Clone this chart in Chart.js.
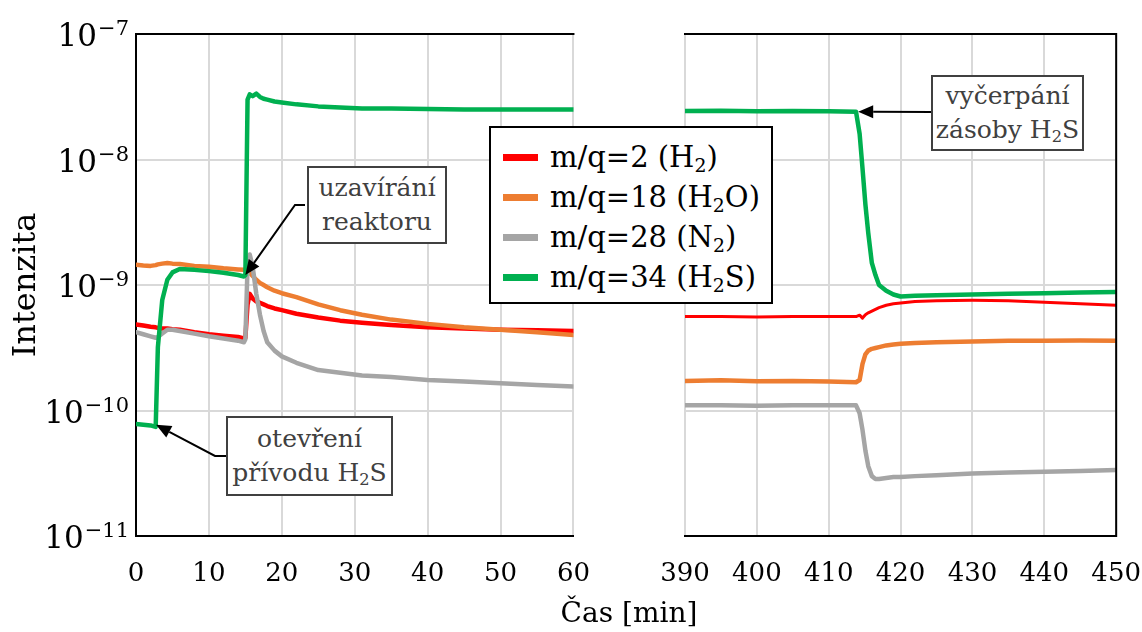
<!DOCTYPE html>
<html>
<head>
<meta charset="utf-8">
<script src="https://cdn.jsdelivr.net/npm/chart.js@4"></script>
<style>
  html, body { margin: 0; padding: 0; background: #fff; overflow: hidden; }
  #wrap { position: relative; width: 1142px; height: 632px; overflow: hidden; font-family: "DejaVu Serif", serif; }
  .pane { position: absolute; top: 0; height: 632px; }
  .box { position: absolute; box-sizing: border-box; background: #fff; border: 2px solid #404040;
         color: #404040; font-size: 25px; line-height: 34px; text-align: center;
         display: flex; flex-direction: column; justify-content: center; }
  sub { font-size: 0.65em; vertical-align: -0.25em; line-height: 0; }
  #legend { position: absolute; left: 489px; top: 126px; width: 284px; height: 178px; box-sizing: border-box;
            border: 2px solid #000; background: #fff; padding-top: 9px; }
  .row { position: relative; height: 40px; font-size: 29px; line-height: 40px; color: #000; }
  .sw { position: absolute; left: 12px; top: 17px; width: 35px; height: 7px; }
  .lt { position: absolute; left: 59px; top: 0; white-space: nowrap; }
  #xtitle { position: absolute; left: 529px; width: 200px; top: 596px; text-align: center; font-size: 28px; line-height: 34px; color: #000; }
</style>
</head>
<body>
<div id="wrap">
  <div class="pane" style="left:0;width:613px"><canvas id="cL"></canvas></div>
  <div class="pane" style="left:600px;width:564px"><canvas id="cR"></canvas></div>
  <div id="legend"></div>
  <div class="box" style="left:307px;top:166px;width:140px;height:78px"><div>uzavírání</div><div>reaktoru</div></div>
  <div class="box" style="left:226px;top:416px;width:167px;height:80px"><div>otevření</div><div>přívodu H<sub>2</sub>S</div></div>
  <div class="box" style="left:931px;top:75px;width:153px;height:76px"><div>vyčerpání</div><div>zásoby H<sub>2</sub>S</div></div>
  <div id="xtitle">Čas [min]</div>
</div>
<script>
// ---------- data ----------
const seriesNames = ['m/q=2 (H<sub>2</sub>)', 'm/q=18 (H<sub>2</sub>O)', 'm/q=28 (N<sub>2</sub>)', 'm/q=34 (H<sub>2</sub>S)'];
const seriesColors = ['#ff0000', '#ed7d31', '#a5a5a5', '#00b050'];

const xTicksL = [0, 10, 20, 30, 40, 50, 60];
const xTicksR = [390, 400, 410, 420, 430, 440, 450];
const yTickValues = [1e-11, 1e-10, 1e-9, 1e-8, 1e-7];
const yTickBase = ['10', '10', '10', '10', '10'];
const yTickExp = ['−11', '−10', '−9', '−8', '−7'];

// left part, time [min]
const tL = [0, 1, 2, 2.7, 3, 3.6, 4.3, 5, 6, 8, 10, 12, 14, 14.8, 15, 15.3, 15.6, 16, 16.5, 17, 17.5, 18, 19, 20, 22, 25, 28, 31, 35, 40, 45, 50, 55, 60];
const h2L  = [4.85e-10, 4.75e-10, 4.65e-10, 4.6e-10, 4.55e-10, 4.5e-10, 4.5e-10, 4.45e-10, 4.4e-10, 4.2e-10, 4.05e-10, 3.95e-10, 3.85e-10, 3.75e-10, 3.8e-10, 7.0e-10, 8.5e-10, 7.8e-10, 7.4e-10, 7.2e-10, 7.0e-10, 6.8e-10, 6.5e-10, 6.3e-10, 5.9e-10, 5.5e-10, 5.2e-10, 5.0e-10, 4.8e-10, 4.6e-10, 4.5e-10, 4.4e-10, 4.35e-10, 4.3e-10];
const h2oL = [1.45e-9, 1.43e-9, 1.42e-9, 1.44e-9, 1.46e-9, 1.48e-9, 1.5e-9, 1.48e-9, 1.47e-9, 1.42e-9, 1.4e-9, 1.36e-9, 1.33e-9, 1.32e-9, 1.32e-9, 1.3e-9, 1.25e-9, 1.18e-9, 1.1e-9, 1.04e-9, 1.0e-9, 9.6e-10, 9.0e-10, 8.6e-10, 8.0e-10, 7.0e-10, 6.3e-10, 5.8e-10, 5.3e-10, 4.9e-10, 4.6e-10, 4.4e-10, 4.2e-10, 4.0e-10];
const n2L  = [4.2e-10, 4.05e-10, 3.9e-10, 3.8e-10, 3.85e-10, 4.1e-10, 4.4e-10, 4.4e-10, 4.3e-10, 4.1e-10, 3.9e-10, 3.75e-10, 3.6e-10, 3.5e-10, 3.7e-10, 1.4e-9, 1.75e-9, 1.4e-9, 8.5e-10, 5.8e-10, 4.3e-10, 3.5e-10, 3.0e-10, 2.7e-10, 2.4e-10, 2.1e-10, 2.0e-10, 1.9e-10, 1.85e-10, 1.75e-10, 1.7e-10, 1.65e-10, 1.6e-10, 1.55e-10];
const h2sL = [7.8e-11, 7.7e-11, 7.6e-11, 7.4e-11, 3.2e-10, 7.6e-10, 1.1e-9, 1.26e-9, 1.34e-9, 1.32e-9, 1.29e-9, 1.25e-9, 1.2e-9, 1.17e-9, 1.2e-9, 3.0e-8, 3.3e-8, 3.2e-8, 3.35e-8, 3.15e-8, 3.05e-8, 3.0e-8, 2.9e-8, 2.85e-8, 2.75e-8, 2.65e-8, 2.6e-8, 2.55e-8, 2.55e-8, 2.52e-8, 2.5e-8, 2.5e-8, 2.5e-8, 2.5e-8];

// right part, time [min]
const tR = [390, 395, 400, 405, 410, 413.8, 414.3, 414.7, 415.1, 415.5, 416, 416.5, 417, 418, 419, 420, 422, 425, 430, 435, 440, 445, 450];
const h2R  = [5.6e-10, 5.6e-10, 5.55e-10, 5.6e-10, 5.6e-10, 5.6e-10, 5.75e-10, 5.45e-10, 5.8e-10, 6.0e-10, 6.2e-10, 6.4e-10, 6.6e-10, 6.9e-10, 7.1e-10, 7.2e-10, 7.4e-10, 7.5e-10, 7.55e-10, 7.5e-10, 7.3e-10, 7.1e-10, 6.9e-10];
const h2oR = [1.72e-10, 1.74e-10, 1.71e-10, 1.72e-10, 1.7e-10, 1.68e-10, 1.75e-10, 2.35e-10, 2.8e-10, 3.0e-10, 3.1e-10, 3.15e-10, 3.2e-10, 3.3e-10, 3.35e-10, 3.4e-10, 3.45e-10, 3.5e-10, 3.55e-10, 3.6e-10, 3.6e-10, 3.62e-10, 3.6e-10];
const n2R  = [1.1e-10, 1.1e-10, 1.09e-10, 1.1e-10, 1.1e-10, 1.1e-10, 9.5e-11, 7.0e-11, 4.8e-11, 3.6e-11, 3.0e-11, 2.85e-11, 2.85e-11, 2.9e-11, 2.95e-11, 2.95e-11, 3.0e-11, 3.05e-11, 3.15e-11, 3.2e-11, 3.25e-11, 3.3e-11, 3.35e-11];
const h2sR = [2.43e-8, 2.45e-8, 2.42e-8, 2.44e-8, 2.42e-8, 2.4e-8, 1.6e-8, 8.5e-9, 4.4e-9, 2.6e-9, 1.5e-9, 1.2e-9, 1.0e-9, 9.0e-10, 8.4e-10, 8.1e-10, 8.2e-10, 8.3e-10, 8.4e-10, 8.5e-10, 8.6e-10, 8.7e-10, 8.8e-10];

// ---------- legend ----------
const leg = document.getElementById('legend');
seriesNames.forEach((n, i) => {
  const r = document.createElement('div'); r.className = 'row';
  r.innerHTML = '<div class="sw" style="background:' + seriesColors[i] + '"></div><div class="lt">' + n + '</div>';
  leg.appendChild(r);
});

// ---------- helpers ----------
const FONT = 'DejaVu Serif';
const GRID = '#d9d9d9';
function pairs(t, v) { return t.map((x, i) => ({ x: x, y: v[i] })); }
function datasets(t, arrs, widths) {
  const ord = [3, 2, 1, 0];
  return arrs.map((a, i) => ({
    data: pairs(t, a), borderColor: seriesColors[i], backgroundColor: seriesColors[i],
    borderWidth: widths[i], pointRadius: 0, tension: 0, order: ord[i],
    borderJoinStyle: 'round', borderCapStyle: 'round', fill: false
  }));
}

// y tick labels as 10 with a superscript exponent, placed by the y scale
const yLabelPlugin = {
  id: 'ylabels',
  afterDraw(chart) {
    const ctx = chart.ctx, ys = chart.scales.y;
    const right = ys.right - 7;
    ctx.save();
    ctx.fillStyle = '#000';
    ctx.textBaseline = 'alphabetic';
    ys.ticks.forEach((t, i) => {
      const y = ys.getPixelForValue(t.value);
      ctx.font = '21px "' + FONT + '"';
      const ew = ctx.measureText(yTickExp[i]).width;
      ctx.textAlign = 'right';
      ctx.fillText(yTickExp[i], right, y + 1);
      ctx.font = '31px "' + FONT + '"';
      ctx.fillText(yTickBase[i], right - ew - 1, y + 12);
    });
    ctx.restore();
  }
};

function arrowPlugin(id, notes, frameSides) {
  return {
    id: id,
    afterDraw(chart) {
      const ctx = chart.ctx, a = chart.chartArea;
      const off = chart.canvas.parentNode.offsetLeft;
      ctx.save();
      ctx.strokeStyle = '#000'; ctx.lineWidth = 2; ctx.lineCap = 'square';
      ctx.beginPath();
      if (frameSides.top) { ctx.moveTo(a.left, a.top); ctx.lineTo(a.right, a.top); }
      if (frameSides.right) { ctx.moveTo(a.right, a.top); ctx.lineTo(a.right, a.bottom); }
      ctx.stroke();
      notes.forEach(n => {
        const tx = chart.scales.x.getPixelForValue(n.tip[0]);
        const ty = chart.scales.y.getPixelForValue(n.tip[1]);
        const pts = n.path.map(p => [p[0] - off, p[1]]);
        const last = pts[pts.length - 1];
        const ang = Math.atan2(ty - last[1], tx - last[0]);
        const L = 15, W = 6.5;
        const bx = tx - L * Math.cos(ang), by = ty - L * Math.sin(ang);
        ctx.lineCap = 'butt'; ctx.lineJoin = 'miter';
        ctx.beginPath();
        ctx.moveTo(pts[0][0], pts[0][1]);
        for (let i = 1; i < pts.length; i++) ctx.lineTo(pts[i][0], pts[i][1]);
        ctx.lineTo(bx, by);
        ctx.stroke();
        ctx.fillStyle = '#000';
        ctx.beginPath();
        ctx.moveTo(tx, ty);
        ctx.lineTo(bx + W * Math.sin(ang), by - W * Math.cos(ang));
        ctx.lineTo(bx - W * Math.sin(ang), by + W * Math.cos(ang));
        ctx.closePath(); ctx.fill();
      });
      ctx.restore();
    }
  };
}

function xAxis(min, max, ticks) {
  return {
    type: 'linear', min: min, max: max,
    afterBuildTicks: s => { s.ticks = ticks.map(v => ({ value: v })); },
    afterFit: s => { s.height = 96; },
    ticks: { font: { family: FONT, size: 26 }, color: '#000', padding: 23, maxRotation: 0 },
    grid: { color: GRID, lineWidth: 2, drawTicks: false },
    border: { display: true, color: '#000', width: 2 }
  };
}
function yAxis(width, showBorder) {
  return {
    type: 'logarithmic', min: 1e-11, max: 1e-7,
    afterBuildTicks: s => { s.ticks = yTickValues.map(v => ({ value: v })); },
    afterFit: s => { s.width = width; },
    ticks: { display: false },
    grid: { color: GRID, lineWidth: 2, drawTicks: false },
    border: { display: showBorder, color: '#000', width: 2 },
    title: { display: showBorder, text: 'Intenzita', color: '#000', font: { family: FONT, size: 32 }, padding: { top: 7, bottom: 0 } }
  };
}
const common = {
  responsive: true, maintainAspectRatio: false, animation: false, devicePixelRatio: 1,
  plugins: { legend: { display: false }, tooltip: { enabled: false } },
  events: []
};

new Chart(document.getElementById('cL'), {
  type: 'line',
  data: { datasets: datasets(tL, [h2L, h2oL, n2L, h2sL], [4.5, 4.5, 4.5, 4.5]) },
  options: Object.assign({}, common, {
    layout: { padding: { top: 34, right: 0, left: 0, bottom: 0 } },
    scales: { x: xAxis(0, 60, xTicksL), y: yAxis(136, true) }
  }),
  plugins: [yLabelPlugin, arrowPlugin('arrL', [
    { path: [[305, 205], [295, 205]], tip: [15, 1.2e-9] },
    { path: [[226, 456], [215, 456]], tip: [2.75, 7.7e-11] }
  ], { top: true, right: false })]
});

new Chart(document.getElementById('cR'), {
  type: 'line',
  data: { datasets: datasets(tR, [h2R, h2oR, n2R, h2sR], [3, 4.5, 4.5, 4.5]) },
  options: Object.assign({}, common, {
    layout: { padding: { top: 34, right: 0, left: 0, bottom: 0 } },
    scales: { x: xAxis(390, 450, xTicksR), y: yAxis(85, false) }
  }),
  plugins: [arrowPlugin('arrR', [
    { path: [[931, 112]], tip: [414.1, 2.4e-8] }
  ], { top: true, right: true })]
});
</script>
</body>
</html>
